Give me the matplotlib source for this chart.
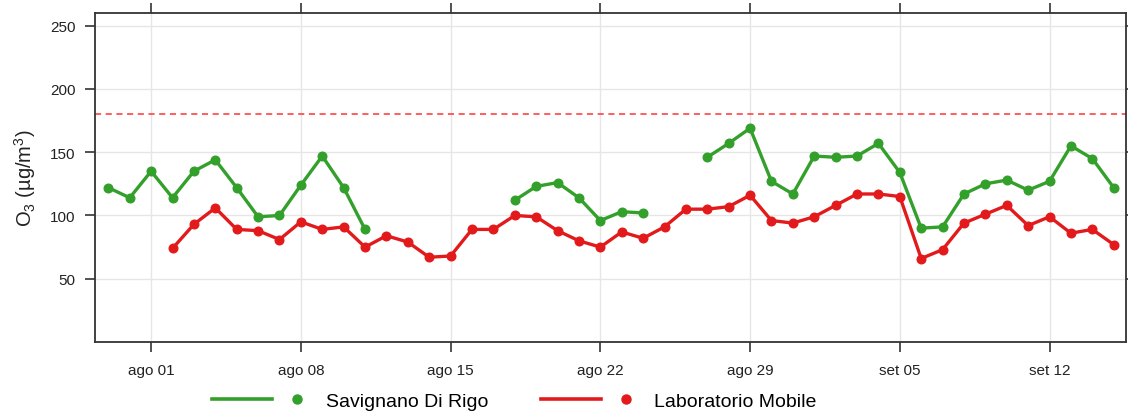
import numpy as np
import pandas as pd
import matplotlib
matplotlib.use('Agg')
import matplotlib.pyplot as plt
from matplotlib.lines import Line2D
from matplotlib.legend_handler import HandlerBase

plt.rcParams['font.family'] = ['Liberation Sans', 'DejaVu Sans']
plt.rcParams['mathtext.default'] = 'regular'

# daily O3 values, 30 Jul - 15 Sep (NaN = missing)
dates = pd.date_range('2023-07-30', '2023-09-15', freq='D')
nan = np.nan
savignano = [122, 114, 135, 114, 135, 144, 122, 99, 100, 124, 147, 122, 89,
             nan, nan, nan, nan, nan, nan,
             112, 123, 126, 114, 96, 103, 102,
             nan, nan,
             146, 157, 169, 127, 117, 147, 146, 147, 157, 134, 90, 91,
             117, 125, 128, 120, 127, 155, 145, 122]
laboratorio = [nan, nan, nan, 74, 93, 106, 89, 88, 81, 95, 89, 91, 75, 84, 79,
               67, 68, 89, 89, 100, 99, 88, 80, 75, 87, 82, 91, 105, 105, 107,
               116, 96, 94, 99, 108, 117, 117, 115, 66, 73, 94, 101, 108, 92,
               99, 86, 89, 77]
limit = 180

series_names = ['Savignano Di Rigo', 'Laboratorio Mobile']
series_colors = ['#33A02C', '#E31A1C']

x_ticks = pd.to_datetime(['2023-08-01', '2023-08-08', '2023-08-15', '2023-08-22',
                          '2023-08-29', '2023-09-05', '2023-09-12'])
x_labels = ['ago 01', 'ago 08', 'ago 15', 'ago 22', 'ago 29', 'set 05', 'set 12']
y_ticks = [50, 100, 150, 200, 250]


# legend key: line segment followed by a separate dot
class LineDotHandler(HandlerBase):
    def create_artists(self, legend, orig_handle, xdescent, ydescent,
                       width, height, fontsize, trans):
        c = orig_handle.get_color()
        y = height / 2 - ydescent
        ln = Line2D([-xdescent, -xdescent + 0.674 * width], [y, y],
                    color=c, lw=2.6, transform=trans)
        dot = Line2D([-xdescent + 0.955 * width], [y], marker='o', ls='none',
                     color=c, ms=6.5, transform=trans)
        return [ln, dot]


fig = plt.figure(figsize=(11.28, 4.14), dpi=100)
ax = fig.add_axes([0.0842, 0.1715, 0.9138, 0.7945])

handles = []
for vals, name, col in zip([savignano, laboratorio], series_names, series_colors):
    h, = ax.plot(dates, vals, color=col, lw=2.4, marker='o', ms=6.2,
                 label=name, zorder=3)
    handles.append(h)

ax.axhline(limit, color='#FF3333', lw=1.1, ls=(0, (4, 3)), zorder=2)

ax.set_ylim(0, 260)
ax.set_xlim(pd.Timestamp('2023-07-29 09:00'), pd.Timestamp('2023-09-15 13:30'))
ax.set_yticks(y_ticks)
ax.set_xticks(x_ticks)
ax.set_xticklabels(x_labels)
ax.grid(True, color='#E6E6E6', lw=1.0, zorder=0)
ax.set_axisbelow(True)

ax.tick_params(axis='both', direction='out', length=7, width=1.2,
               color='#333333', labelsize=11, labelcolor='#222222',
               top=True, right=True, labeltop=False, labelright=False)
ax.tick_params(axis='x', pad=8)
ax.tick_params(axis='y', pad=7)
for s in ax.spines.values():
    s.set_color('#333333')
    s.set_linewidth(1.3)

ax.set_ylabel('O$_3$ (µg/m$^3$)', fontsize=14.5, color='#222222', labelpad=9)

fig.legend(handles, series_names, handler_map={Line2D: LineDotHandler()},
           loc='center left', bbox_to_anchor=(212 / 1128, 1 - 402 / 414),
           ncol=2, frameon=False, borderpad=0, borderaxespad=0,
           fontsize=14, handlelength=4.6, handletextpad=1.25,
           columnspacing=2.7)

fig.savefig('out.png', dpi=100)
